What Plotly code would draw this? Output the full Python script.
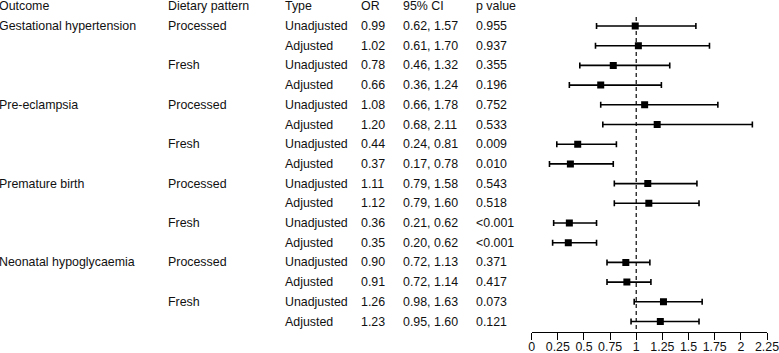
import plotly.graph_objects as go

outcomes = ["Gestational hypertension", "", "", "",
            "Pre-eclampsia", "", "", "",
            "Premature birth", "", "", "",
            "Neonatal hypoglycaemia", "", "", ""]
patterns = ["Processed", "", "Fresh", "",
            "Processed", "", "Fresh", "",
            "Processed", "", "Fresh", "",
            "Processed", "", "Fresh", ""]
types = ["Unadjusted", "Adjusted"] * 8
or_vals = [0.99, 1.02, 0.78, 0.66, 1.08, 1.20, 0.44, 0.37,
           1.11, 1.12, 0.36, 0.35, 0.90, 0.91, 1.26, 1.23]
ci_low = [0.62, 0.61, 0.46, 0.36, 0.66, 0.68, 0.24, 0.17,
          0.79, 0.79, 0.21, 0.20, 0.72, 0.72, 0.98, 0.95]
ci_high = [1.57, 1.70, 1.32, 1.24, 1.78, 2.11, 0.81, 0.78,
           1.58, 1.60, 0.62, 0.62, 1.13, 1.14, 1.63, 1.60]
p_values = ["0.955", "0.937", "0.355", "0.196", "0.752", "0.533", "0.009", "0.010",
            "0.543", "0.518", "<0.001", "<0.001", "0.371", "0.417", "0.073", "0.121"]
headers = ["Outcome", "Dietary pattern", "Type", "OR", "95% CI", "p value"]
tick_vals = [0, 0.25, 0.5, 0.75, 1, 1.25, 1.5, 1.75, 2, 2.25]
tick_text = ["0", "0.25", "0.5", "0.75", "1", "1.25", "1.5", "1.75", "2", "2.25"]

W, H = 779, 353
FONT = "Arial, Liberation Sans, sans-serif"
FS = 12.4
TXT = "#111111"

rows = list(range(len(or_vals)))
row0_px = 26.0
row_step = 19.7
axis_px = 332.0

fig = go.Figure()
fig.add_trace(go.Scatter(
    x=or_vals, y=rows, mode="markers",
    marker=dict(symbol="square", size=7, color="black"),
    error_x=dict(type="data", symmetric=False,
                 array=[h - o for h, o in zip(ci_high, or_vals)],
                 arrayminus=[o - l for o, l in zip(or_vals, ci_low)],
                 color="black", thickness=1.6, width=3),
    showlegend=False, hoverinfo="skip",
))

# reference line at OR = 1
top_row = (17 - row0_px) / row_step
bottom_row = (axis_px - row0_px) / row_step
fig.add_shape(type="line", x0=1, x1=1, xref="x", yref="y",
              y0=top_row, y1=bottom_row,
              line=dict(color="#333333", width=1.5, dash="4px,3px"), layer="below")

col_px = [-2, 167, 284, 360, 402, 475]
cols = [outcomes, patterns, types,
        [f"{v:.2f}" for v in or_vals],
        [f"{l:.2f}, {h:.2f}" for l, h in zip(ci_low, ci_high)],
        p_values]

annotations = []
for cx, head in zip(col_px, headers):
    annotations.append(dict(x=cx / W, y=-1, xref="paper", yref="y", text=head,
                            showarrow=False, xanchor="left", yanchor="middle",
                            borderpad=0, font=dict(family=FONT, size=FS, color=TXT)))
for cx, col in zip(col_px, cols):
    for r, t in zip(rows, col):
        if t:
            annotations.append(dict(x=cx / W, y=r, xref="paper", yref="y", text=t,
                                    showarrow=False, xanchor="left", yanchor="middle",
                                    borderpad=0, font=dict(family=FONT, size=FS, color=TXT)))

y_top = -row0_px / row_step
y_bot = (axis_px - row0_px) / row_step

fig.update_layout(
    width=W, height=H,
    margin=dict(l=0, r=0, t=0, b=0, autoexpand=False),
    paper_bgcolor="white", plot_bgcolor="white",
    annotations=annotations,
    xaxis=dict(domain=[531.7 / W, 767.0 / W], range=[0, 2.25], automargin=False,
               tickmode="array", tickvals=tick_vals, ticktext=tick_text,
               showline=True, linecolor="black", linewidth=1.2,
               ticks="outside", ticklen=7, tickwidth=1.2, tickcolor="black",
               ticklabelstandoff=-4,
               showgrid=False, zeroline=False, ticklabeloverflow="allow",
               tickfont=dict(family=FONT, size=FS, color=TXT)),
    yaxis=dict(domain=[(H - axis_px) / H, 1], range=[y_bot, y_top], automargin=False,
               showgrid=False, zeroline=False, showticklabels=False,
               showline=False, ticks=""),
)

fig.write_html(
    "out.html",
    config={"displayModeBar": False},
    post_script="document.body.style.margin='0';document.body.style.overflow='hidden';",
)
